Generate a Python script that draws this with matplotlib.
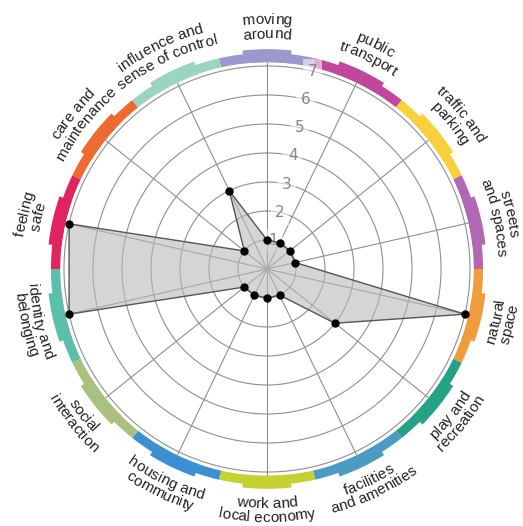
import numpy as np
import matplotlib
matplotlib.use("Agg")
import matplotlib.pyplot as plt
from matplotlib.font_manager import FontProperties
from matplotlib.textpath import TextPath

# Place Standard categories, clockwise from the top
categories = [
    ["moving", "around"],
    ["public", "transport"],
    ["traffic and", "parking"],
    ["streets", "and spaces"],
    ["natural", "space"],
    ["play and", "recreation"],
    ["facilities", "and amenities"],
    ["work and", "local economy"],
    ["housing and", "community"],
    ["social", "interaction"],
    ["identity and", "belonging"],
    ["feeling", "safe"],
    ["care and", "maintenance"],
    ["influence and", "sense of control"],
]
scores = [1, 1, 1, 1, 7, 3, 1, 1, 1, 1, 7, 7, 1, 3]
band_colors = [
    "#9b97cf", "#c1479c", "#f9cf3c", "#b267b3", "#f19b3b", "#25a186", "#4a9cc4",
    "#c4d12f", "#3c8fd0", "#a9c17f", "#5bbfa9", "#e1245f", "#ef6a30", "#9bd5c1",
]
ring_labels = ["1", "2", "3", "4", "5", "6", "7"]

DPI = 100
R_PX = 221
RMAX = 7.62
PX_PER_UNIT = R_PX / RMAX
CX, CY = 267, 257  # centre in pixels (CY from the bottom)

n = len(categories)
step = 2 * np.pi / n
theta = np.arange(n) * step

fig = plt.figure(figsize=(5.23, 5.26), dpi=DPI)
ax = fig.add_axes([(CX - R_PX) / 523, (CY - R_PX) / 526, 2 * R_PX / 523, 2 * R_PX / 526],
                  projection="polar")
ax.set_theta_offset(np.pi / 2)
ax.set_theta_direction(-1)
ax.set_ylim(0, RMAX)
ax.grid(False)
ax.spines["polar"].set_visible(False)
ax.set_xticks([])
ax.set_yticks([])

# grid rings and spokes
tt = np.linspace(0, 2 * np.pi, 400)
for k in range(1, 8):
    ax.plot(tt, np.full_like(tt, k), color="#8f8f8f", lw=0.8, zorder=2)
for t in theta:
    ax.plot([t, t], [0, 7.1], color="#8f8f8f", lw=0.8, zorder=2)

# coloured band with a raised middle part
ax.bar(theta, 7.45 - 7.13, width=step, bottom=7.13, color=band_colors,
       edgecolor="none", align="center", zorder=1)
ax.bar(theta, 7.58 - 7.13, width=step * 0.5, bottom=7.13, color=band_colors,
       edgecolor="none", align="center", zorder=1)

# ring numbers
for i, lab in enumerate(ring_labels):
    ax.text(step / 2, i + 1, lab, ha="center", va="center", color="#858585",
            fontsize=11, zorder=2.5,
            bbox=dict(boxstyle="square,pad=0.3", fc="white", ec="none", alpha=0.55))

# scores polygon
tc = np.append(theta, theta[0])
sc = np.append(scores, scores[0])
ax.fill(tc, sc, facecolor="#b9b9b9", alpha=0.6, edgecolor="none", zorder=3)
ax.plot(tc, sc, color="#555555", lw=1.0, zorder=4)
ax.plot(theta, scores, "o", color="black", ms=5, zorder=5)

# curved category labels
FS = 11
fp = FontProperties(family="Liberation Sans", size=FS)
base_w = TextPath((0, 0), "||", size=FS, prop=fp).get_extents().width


def text_w(s):
    w = TextPath((0, 0), "|" + s + "|", size=FS, prop=fp).get_extents().width
    return (w - base_w) * DPI / 72


def curved(s, phi, r_units, top):
    r_px = r_units * PX_PER_UNIT
    total = text_w(s)
    for i, ch in enumerate(s):
        if ch == " ":
            continue
        c = (text_w(s[:i]) + text_w(s[:i + 1])) / 2 - total / 2
        d = c / r_px
        if top:
            a = phi - d
            rot = np.degrees(a) - 90
        else:
            a = phi + d
            rot = np.degrees(a) + 90
        ax.text(np.pi / 2 - a, r_units, ch, fontproperties=fp, color="#222222",
                ha="center", va="baseline", rotation=rot, rotation_mode="anchor",
                clip_on=False, zorder=7)


for i, lines in enumerate(categories):
    phi = np.pi / 2 - theta[i]
    top = np.sin(phi) > 0
    if top:
        curved(lines[0], phi, 8.45, True)
        curved(lines[1], phi, 7.95, True)
    else:
        curved(lines[0], phi, 8.25, False)
        curved(lines[1], phi, 8.72, False)

fig.savefig("out.png", dpi=DPI)
